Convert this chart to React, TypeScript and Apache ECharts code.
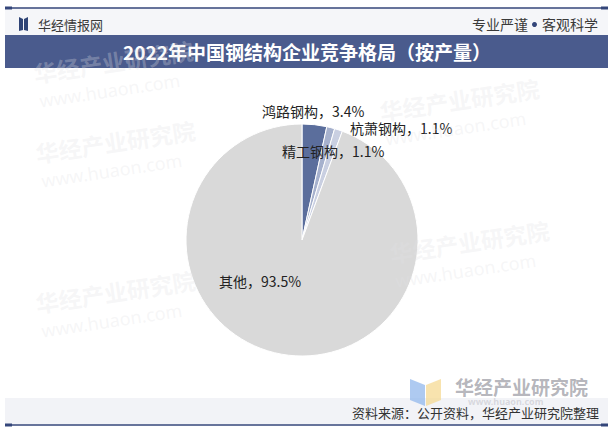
import React, { useEffect, useRef } from "react";
import * as echarts from "echarts";

const categories = ["鸿路钢构", "杭萧钢构", "精工钢构", "其他"];
const shares = [3.4, 1.1, 1.1, 93.5];
const sliceColors = ["#5b6e9c", "#a6b1cd", "#c9cfe1", "#d9d9d9"];
const labelAnchors = [
  [262, 111],
  [350, 128],
  [282, 151],
  [219, 281],
];

const titleText = "2022年中国钢结构企业竞争格局（按产量）";
const sourceText = "资料来源：公开资料，华经产业研究院整理";

export default function App() {
  const ref = useRef<HTMLDivElement>(null);
  useEffect(() => {
    if (!ref.current) return;
    const chart = echarts.init(ref.current, undefined, { renderer: "svg" });
    const navy = "#34467a";
    const wmColor = "rgba(225,225,228,0.3)";
    const wm = (x: number, y: number) => [
      {
        type: "text",
        x,
        y,
        rotation: 0.15,
        z: 50,
        silent: true,
        style: { text: "华经产业研究院", fill: wmColor, font: "bold 23px 'Noto Sans CJK SC'" },
      },
      {
        type: "text",
        x: x + 6,
        y: y + 30,
        rotation: 0.15,
        z: 50,
        silent: true,
        style: { text: "www.huaon.com", fill: wmColor, font: "18px 'Noto Sans'" },
      },
    ];
    chart.setOption({
      animation: false,
      backgroundColor: "#ffffff",
      graphic: [
        { type: "rect", shape: { x: 5, y: 8, width: 603, height: 28 }, style: { fill: "#f5f6f9" }, z: 1 },
        { type: "line", shape: { x1: 5, y1: 8, x2: 608, y2: 8 }, style: { stroke: navy, lineWidth: 1.5 }, z: 2 },
        { type: "rect", shape: { x: 5, y: 6.5, width: 7, height: 3 }, style: { fill: navy }, z: 2 },
        { type: "rect", shape: { x: 601, y: 6.5, width: 7, height: 3 }, style: { fill: navy }, z: 2 },
        { type: "polygon", shape: { points: [[19, 17], [23, 19], [23, 30], [19, 31]] }, style: { fill: "#2f4476" }, z: 2 },
        { type: "polygon", shape: { points: [[24, 19], [28, 17], [28, 31], [24, 30]] }, style: { fill: "#2f4476" }, z: 2 },
        {
          type: "text",
          x: 38,
          y: 24,
          z: 2,
          style: { text: "华经情报网", fill: "#3a3a3a", font: "13px 'Noto Sans CJK SC'", verticalAlign: "middle" },
        },
        {
          type: "text",
          x: 528,
          y: 24,
          z: 2,
          style: {
            text: "专业严谨",
            fill: "#3a3a3a",
            font: "14px 'Noto Sans CJK SC'",
            align: "right",
            verticalAlign: "middle",
          },
        },
        { type: "circle", shape: { cx: 534.5, cy: 24.5, r: 2.5 }, style: { fill: "#34467a" }, z: 2 },
        {
          type: "text",
          x: 598,
          y: 24,
          z: 2,
          style: {
            text: "客观科学",
            fill: "#3a3a3a",
            font: "14px 'Noto Sans CJK SC'",
            align: "right",
            verticalAlign: "middle",
          },
        },
        { type: "rect", shape: { x: 5, y: 35, width: 603, height: 33 }, style: { fill: "#4a5b8d" }, z: 2 },
        {
          type: "text",
          x: 307,
          y: 51.5,
          z: 3,
          style: {
            text: titleText,
            fill: "#ffffff",
            font: "bold 19px 'Noto Sans CJK SC'",
            align: "center",
            verticalAlign: "middle",
          },
        },
        { type: "rect", shape: { x: 5, y: 398, width: 603, height: 26 }, style: { fill: "#f2f3f7" }, z: 1 },
        ...wm(32, 62),
        ...wm(34, 142),
        ...wm(34, 292),
        ...wm(378, 100),
        ...wm(388, 242),
        { type: "polygon", shape: { points: [[410, 379], [425, 385], [425, 406], [410, 400]] }, style: { fill: "rgba(140,180,235,0.7)" }, z: 60 },
        { type: "polygon", shape: { points: [[426, 385], [441, 379], [441, 400], [426, 406]] }, style: { fill: "rgba(245,215,140,0.7)" }, z: 60 },
        {
          type: "text",
          x: 455,
          y: 386,
          z: 60,
          style: {
            text: "华经产业研究院",
            fill: "rgba(140,140,150,0.65)",
            font: "bold 19px 'Noto Sans CJK SC'",
            verticalAlign: "middle",
          },
        },
        {
          type: "text",
          x: 468,
          y: 401,
          z: 60,
          style: {
            text: "www.huaon.com",
            fill: "rgba(150,150,160,0.3)",
            font: "bold 9px 'Noto Sans'",
            verticalAlign: "middle",
          },
        },
        {
          type: "text",
          x: 599,
          y: 412,
          z: 61,
          style: {
            text: sourceText,
            fill: "#333333",
            font: "13px 'Noto Sans CJK SC'",
            align: "right",
            verticalAlign: "middle",
          },
        },
        { type: "line", shape: { x1: 5, y1: 425, x2: 608, y2: 425 }, style: { stroke: navy, lineWidth: 1.5 }, z: 62 },
        { type: "rect", shape: { x: 5, y: 423.5, width: 7, height: 3 }, style: { fill: navy }, z: 62 },
        { type: "rect", shape: { x: 601, y: 423.5, width: 7, height: 3 }, style: { fill: navy }, z: 62 },
      ],
      series: [
        {
          type: "pie",
          center: [302, 240],
          radius: 116,
          startAngle: 90,
          clockwise: true,
          z: 10,
          itemStyle: { borderColor: "#ffffff", borderWidth: 1 },
          label: {
            show: true,
            position: "inside",
            formatter: (p: any) => `${p.name}，${p.value}%`,
            color: "#222222",
            fontSize: 14,
            fontFamily: "'Noto Sans CJK SC'",
          },
          labelLine: { show: false },
          labelLayout: (p: any) => {
            const a = labelAnchors[p.dataIndex];
            return { x: a[0], y: a[1], align: "left", verticalAlign: "middle" };
          },
          emphasis: { disabled: true },
          data: categories.map((name, i) => ({
            name,
            value: shares[i],
            itemStyle: { color: sliceColors[i] },
          })),
        },
      ],
    });
    return () => chart.dispose();
  }, []);
  return (
    <div
      ref={ref}
      style={{ position: "absolute", left: 0, top: 0, width: 613, height: 433 }}
    />
  );
}
